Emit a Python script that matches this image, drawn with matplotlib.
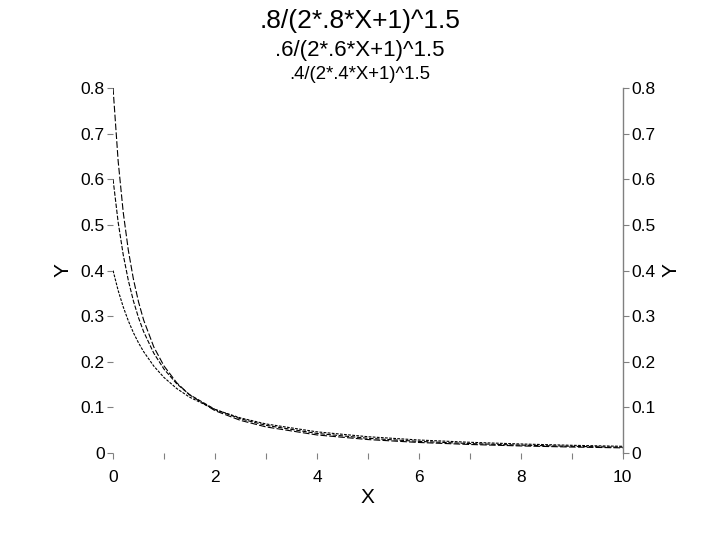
import matplotlib.pyplot as plt
from matplotlib.ticker import MultipleLocator

plt.rcParams['font.family'] = ['Liberation Sans', 'DejaVu Sans']

# valores
x = [0, 0.1, 0.2, 0.3, 0.4, 0.5, 0.6, 0.8, 1.0, 1.25, 1.5, 2, 2.5, 3, 4, 5, 6, 7, 8, 9, 10]
y08 = [0.8, 0.6403, 0.5275, 0.4443, 0.3809, 0.3313, 0.2915, 0.2324, 0.1908, 0.1540, 0.1276,
       0.0929, 0.0716, 0.0573, 0.0397, 0.0296, 0.0232, 0.0188, 0.0156, 0.0132, 0.0114]
y06 = [0.6, 0.5062, 0.4345, 0.3783, 0.3332, 0.2965, 0.2660, 0.2187, 0.1839, 0.1518, 0.1281,
       0.0957, 0.0750, 0.0608, 0.0430, 0.0324, 0.0256, 0.0208, 0.0174, 0.0148, 0.0128]
y04 = [0.4, 0.3564, 0.3202, 0.2897, 0.2637, 0.2415, 0.2222, 0.1905, 0.1656, 0.1414, 0.1226,
       0.0954, 0.0770, 0.0638, 0.0465, 0.0358, 0.0286, 0.0236, 0.0199, 0.0170, 0.0148]

titulos = [".8/(2*.8*X+1)^1.5", ".6/(2*.6*X+1)^1.5", ".4/(2*.4*X+1)^1.5"]

fig = plt.figure(figsize=(7.2, 5.4), dpi=100)
ax = fig.add_axes([0.157, 0.161, 0.708, 0.676])

ax.plot(x, y08, color='black', lw=0.8, dashes=(6, 2))
ax.plot(x, y06, color='black', lw=0.8, dashes=(4, 1.5))
ax.plot(x, y04, color='black', lw=0.8, dashes=(2.5, 1.2))

ax.set_xlim(0, 10)
ax.set_ylim(0, 0.8)

for lado in ['top', 'bottom', 'left']:
    ax.spines[lado].set_visible(False)
ax.spines['right'].set_color('gray')
ax.spines['right'].set_linewidth(1.0)

ax.xaxis.set_major_locator(MultipleLocator(2))
ax.xaxis.set_minor_locator(MultipleLocator(1))
ax.yaxis.set_major_locator(MultipleLocator(0.1))
ax.yaxis.set_major_formatter(plt.FuncFormatter(lambda v, p: '0' if abs(v) < 1e-9 else f'{v:.1f}'))

ax.tick_params(axis='x', which='both', direction='out', length=4, pad=8, color='gray',
               labelsize=12.5, width=0.8)
ax.tick_params(axis='y', which='major', direction='out', length=4, pad=2, color='gray',
               labelsize=12.5, width=0.8, right=True, labelright=True)

ax.set_xlabel("X", fontsize=15, labelpad=2)
ax.set_ylabel("Y", fontsize=15, labelpad=6)
ax2 = ax.secondary_yaxis('right')
ax2.set_yticks([])
ax2.spines['right'].set_visible(False)
ax2.set_ylabel("Y", fontsize=15, labelpad=28, rotation=90)

fig.text(0.5, 0.962, titulos[0], ha='center', va='center', fontsize=19)
fig.text(0.5, 0.907, titulos[1], ha='center', va='center', fontsize=16)
fig.text(0.5, 0.862, titulos[2], ha='center', va='center', fontsize=13.4)

plt.savefig("out.png", dpi=100)
